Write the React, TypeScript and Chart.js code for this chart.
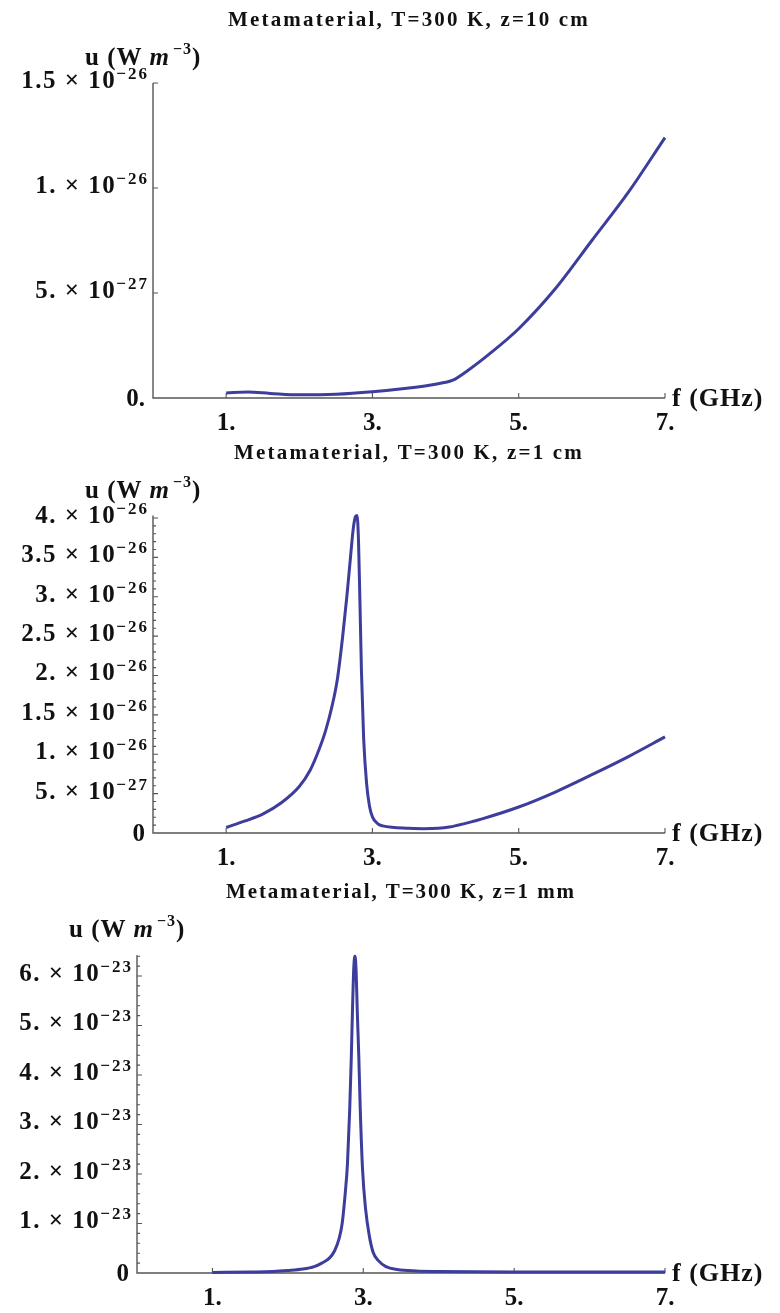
import React, { useEffect, useRef } from "react";
import { Chart, registerables } from "chart.js";

Chart.register(...registerables);

const FONT = '"Liberation Serif", "Times New Roman", serif';
const LINE_COLOR = "#3d3d9c";
const AXIS_COLOR = "#555555";

// ---------- Panel 1: z = 10 cm (u in units of 1e-27 W m^-3) ----------
const freq10cm = [1.0, 1.3, 1.6, 2.0, 2.5, 3.0, 3.5, 3.8, 4.0, 4.1, 4.3, 4.6, 5.0, 5.5, 6.0, 6.5, 7.0];
const u10cm = [0.24, 0.28, 0.22, 0.15, 0.18, 0.3, 0.48, 0.62, 0.75, 0.85, 1.3, 2.1, 3.3, 5.2, 7.5, 9.8, 12.4];
const yTickValues10cm = [0, 5, 10, 15];
const yTickMantissa10cm = ["0.", "5.", "1.", "1.5"];
const yTickExponent10cm = ["", "−27", "−26", "−26"];

// ---------- Panel 2: z = 1 cm (u in units of 1e-27 W m^-3) ----------
const freq1cm = [1.0, 1.25, 1.5, 1.75, 2.0, 2.15, 2.27, 2.36, 2.45, 2.52, 2.59, 2.65, 2.7, 2.74, 2.77, 2.79, 2.81, 2.83, 2.85, 2.88, 2.92, 2.96, 3.0, 3.07, 3.14, 3.3, 3.5, 3.7, 3.9, 4.05, 4.15, 4.5, 5.0, 5.5, 6.0, 6.5, 7.0];
const u1cm = [0.7, 1.5, 2.4, 3.8, 5.9, 8.0, 10.6, 13.0, 16.2, 19.5, 24.7, 30, 35, 38.8, 40.2, 40.3, 37, 29, 20.5, 12, 6.3, 3.4, 2.05, 1.2, 0.9, 0.7, 0.6, 0.55, 0.6, 0.75, 0.95, 1.8, 3.3, 5.2, 7.4, 9.7, 12.2];
const yTickValues1cm = [0, 5, 10, 15, 20, 25, 30, 35, 40];
const yTickMantissa1cm = ["0", "5.", "1.", "1.5", "2.", "2.5", "3.", "3.5", "4."];
const yTickExponent1cm = ["", "−27", "−26", "−26", "−26", "−26", "−26", "−26", "−26"];

// ---------- Panel 3: z = 1 mm (u in units of 1e-23 W m^-3) ----------
const freq1mm = [1.0, 1.5, 1.8, 2.0, 2.2, 2.35, 2.45, 2.55, 2.62, 2.68, 2.72, 2.76, 2.79, 2.82, 2.84, 2.86, 2.875, 2.89, 2.905, 2.92, 2.94, 2.96, 2.99, 3.03, 3.08, 3.13, 3.2, 3.3, 3.45, 3.7, 4.0, 5.0, 6.0, 7.0];
const u1mm = [0.01, 0.02, 0.03, 0.05, 0.08, 0.13, 0.2, 0.3, 0.45, 0.7, 1.0, 1.6, 2.2, 3.3, 4.3, 5.5, 6.2, 6.4, 6.1, 5.3, 4.4, 3.3, 2.1, 1.3, 0.75, 0.42, 0.25, 0.13, 0.07, 0.04, 0.03, 0.02, 0.02, 0.02];
const yTickValues1mm = [0, 1, 2, 3, 4, 5, 6];
const yTickMantissa1mm = ["0", "1.", "2.", "3.", "4.", "5.", "6."];
const yTickExponent1mm = ["", "−23", "−23", "−23", "−23", "−23", "−23"];

// ---------- Shared x axis ----------
const xTickValues = [1, 3, 5, 7];
const xTickLabels = ["1.", "3.", "5.", "7."];

const titles = [
  "Metamaterial, T=300 K, z=10 cm",
  "Metamaterial, T=300 K, z=1 cm",
  "Metamaterial, T=300 K, z=1 mm",
];

type PanelCfg = {
  title: string;
  freq: number[];
  u: number[];
  yMax: number;
  yTicks: number[];
  yMant: string[];
  yExp: string[];
  yMinorStep: number; // 0 = none
  top: number;
  height: number;
  pad: { left: number; right: number; top: number; bottom: number };
};

const panels: PanelCfg[] = [
  {
    title: titles[0], freq: freq10cm, u: u10cm, yMax: 15,
    yTicks: yTickValues10cm, yMant: yTickMantissa10cm, yExp: yTickExponent10cm, yMinorStep: 0,
    top: 0, height: 440, pad: { left: 153, right: 115, top: 83, bottom: 42 },
  },
  {
    title: titles[1], freq: freq1cm, u: u1cm, yMax: 40.3,
    yTicks: yTickValues1cm, yMant: yTickMantissa1cm, yExp: yTickExponent1cm, yMinorStep: 1,
    top: 440, height: 440, pad: { left: 153, right: 115, top: 75.6, bottom: 47 },
  },
  {
    title: titles[2], freq: freq1mm, u: u1mm, yMax: 6.42,
    yTicks: yTickValues1mm, yMant: yTickMantissa1mm, yExp: yTickExponent1mm, yMinorStep: 0.2,
    top: 880, height: 433, pad: { left: 137, right: 115, top: 75.2, bottom: 40 },
  },
];

function setLS(ctx: any, px: number) {
  if ("letterSpacing" in ctx) ctx.letterSpacing = px + "px";
}

const mmaPlugin = {
  id: "mma",
  beforeDatasetsDraw(chart: any, _a: any, o: any) {
    const ctx = chart.ctx;
    const xs = chart.scales.x;
    const ys = chart.scales.y;
    const ca = chart.chartArea;
    const x0 = xs.getPixelForValue(0);
    const y0 = ys.getPixelForValue(0);
    ctx.save();
    ctx.strokeStyle = AXIS_COLOR;
    ctx.lineWidth = 1.4;
    ctx.beginPath();
    ctx.moveTo(x0, ca.top);
    ctx.lineTo(x0, y0);
    ctx.lineTo(xs.getPixelForValue(7), y0);
    ctx.stroke();
    ctx.lineWidth = 1.1;
    ctx.beginPath();
    (o.yTicks as number[]).forEach((v) => {
      if (v === 0) return;
      const y = ys.getPixelForValue(v);
      ctx.moveTo(x0, y);
      ctx.lineTo(x0 + 5, y);
    });
    if (o.yMinorStep > 0) {
      const n = Math.floor(o.yMax / o.yMinorStep + 1e-6);
      for (let i = 1; i <= n; i++) {
        const v = i * o.yMinorStep;
        if ((o.yTicks as number[]).some((t) => Math.abs(t - v) < 1e-6)) continue;
        const y = ys.getPixelForValue(v);
        ctx.moveTo(x0, y);
        ctx.lineTo(x0 + 3, y);
      }
    }
    (o.xTicks as number[]).forEach((v) => {
      const x = xs.getPixelForValue(v);
      ctx.moveTo(x, y0);
      ctx.lineTo(x, y0 - 5);
    });
    ctx.stroke();
    ctx.restore();
  },
  afterDraw(chart: any, _a: any, o: any) {
    const ctx = chart.ctx;
    const xs = chart.scales.x;
    const ys = chart.scales.y;
    const ca = chart.chartArea;
    const x0 = xs.getPixelForValue(0);
    const y0 = ys.getPixelForValue(0);
    ctx.save();
    ctx.fillStyle = "#111";
    ctx.textBaseline = "alphabetic";

    // Title
    ctx.font = `bold 21px ${FONT}`;
    setLS(ctx, 0);
    const tw = ctx.measureText(o.title).width;
    const target = o.title.length > 29 ? 362 : 350;
    const ls = Math.max(0, (target - tw) / o.title.length);
    setLS(ctx, ls);
    ctx.textAlign = "center";
    ctx.fillText(o.title, (ca.left + ca.right) / 2, ca.top - 57);
    setLS(ctx, 0);

    // y tick labels
    ctx.textAlign = "left";
    (o.yTicks as number[]).forEach((v, i) => {
      const y = ys.getPixelForValue(v);
      const mant = o.yMant[i];
      const exp = o.yExp[i];
      ctx.font = `bold 25px ${FONT}`;
      setLS(ctx, 0);
      if (!exp) {
        const w = ctx.measureText(mant).width;
        ctx.fillText(mant, x0 - 8 - w, y + 8);
        return;
      }
      const main = mant + " × 10";
      setLS(ctx, 1.5);
      const wm = ctx.measureText(main).width;
      ctx.font = `bold 17px ${FONT}`;
      setLS(ctx, 2);
      const we = ctx.measureText(exp).width;
      const start = x0 - 4 - wm - we;
      ctx.font = `bold 25px ${FONT}`;
      setLS(ctx, 1.5);
      ctx.fillText(main, start, y + 5);
      ctx.font = `bold 17px ${FONT}`;
      setLS(ctx, 2);
      ctx.fillText(exp, start + wm, y - 4);
    });
    setLS(ctx, 0);

    // x tick labels
    ctx.font = `bold 25px ${FONT}`;
    ctx.textAlign = "center";
    (o.xTicks as number[]).forEach((v, i) => {
      const x = xs.getPixelForValue(v);
      ctx.fillText(o.xLabels[i], x, y0 + 32);
    });

    // x axis label
    ctx.textAlign = "left";
    ctx.font = `bold 26px ${FONT}`;
    setLS(ctx, 1);
    ctx.fillText("f (GHz)", xs.getPixelForValue(7) + 7, y0 + 8);
    setLS(ctx, 0);

    // y axis label: u (W m^-3)
    let lx = x0 - 68;
    const ly = ca.top - 18;
    ctx.font = `bold 25px ${FONT}`;
    setLS(ctx, 1);
    ctx.fillText("u (W", lx, ly);
    lx += ctx.measureText("u (W").width + 7;
    ctx.font = `italic bold 25px ${FONT}`;
    ctx.fillText("m", lx, ly);
    lx += ctx.measureText("m").width + 3;
    ctx.font = `bold 16px ${FONT}`;
    ctx.fillText("−3", lx, ly - 11);
    lx += ctx.measureText("−3").width;
    ctx.font = `bold 25px ${FONT}`;
    ctx.fillText(")", lx, ly);
    setLS(ctx, 0);
    ctx.restore();
  },
};

function Panel({ cfg }: { cfg: PanelCfg }) {
  const ref = useRef<HTMLCanvasElement | null>(null);
  useEffect(() => {
    if (!ref.current) return;
    const chart = new Chart(ref.current, {
      type: "line",
      data: {
        datasets: [
          {
            data: cfg.freq.map((f, i) => ({ x: f, y: cfg.u[i] })),
            borderColor: LINE_COLOR,
            borderWidth: 3,
            pointRadius: 0,
            fill: false,
            cubicInterpolationMode: "monotone",
            clip: false as any,
          } as any,
        ],
      },
      options: {
        animation: false,
        responsive: false,
        maintainAspectRatio: false,
        layout: { padding: cfg.pad },
        scales: {
          x: { type: "linear", min: 0, max: 7, display: false },
          y: { type: "linear", min: 0, max: cfg.yMax, display: false },
        },
        plugins: {
          legend: { display: false },
          tooltip: { enabled: false },
          mma: {
            title: cfg.title,
            yTicks: cfg.yTicks,
            yMant: cfg.yMant,
            yExp: cfg.yExp,
            yMinorStep: cfg.yMinorStep,
            yMax: cfg.yMax,
            xTicks: xTickValues,
            xLabels: xTickLabels,
          },
        } as any,
      },
      plugins: [mmaPlugin as any],
    });
    return () => chart.destroy();
  }, [cfg]);
  return (
    <canvas
      ref={ref}
      width={780}
      height={cfg.height}
      style={{ position: "absolute", left: 0, top: cfg.top, width: 780, height: cfg.height, display: "block" }}
    />
  );
}

export default function App() {
  return (
    <div style={{ position: "absolute", left: 0, top: 0, width: 780, height: 1313, background: "#fff", overflow: "hidden" }}>
      {panels.map((p, i) => (
        <Panel key={i} cfg={p} />
      ))}
    </div>
  );
}
